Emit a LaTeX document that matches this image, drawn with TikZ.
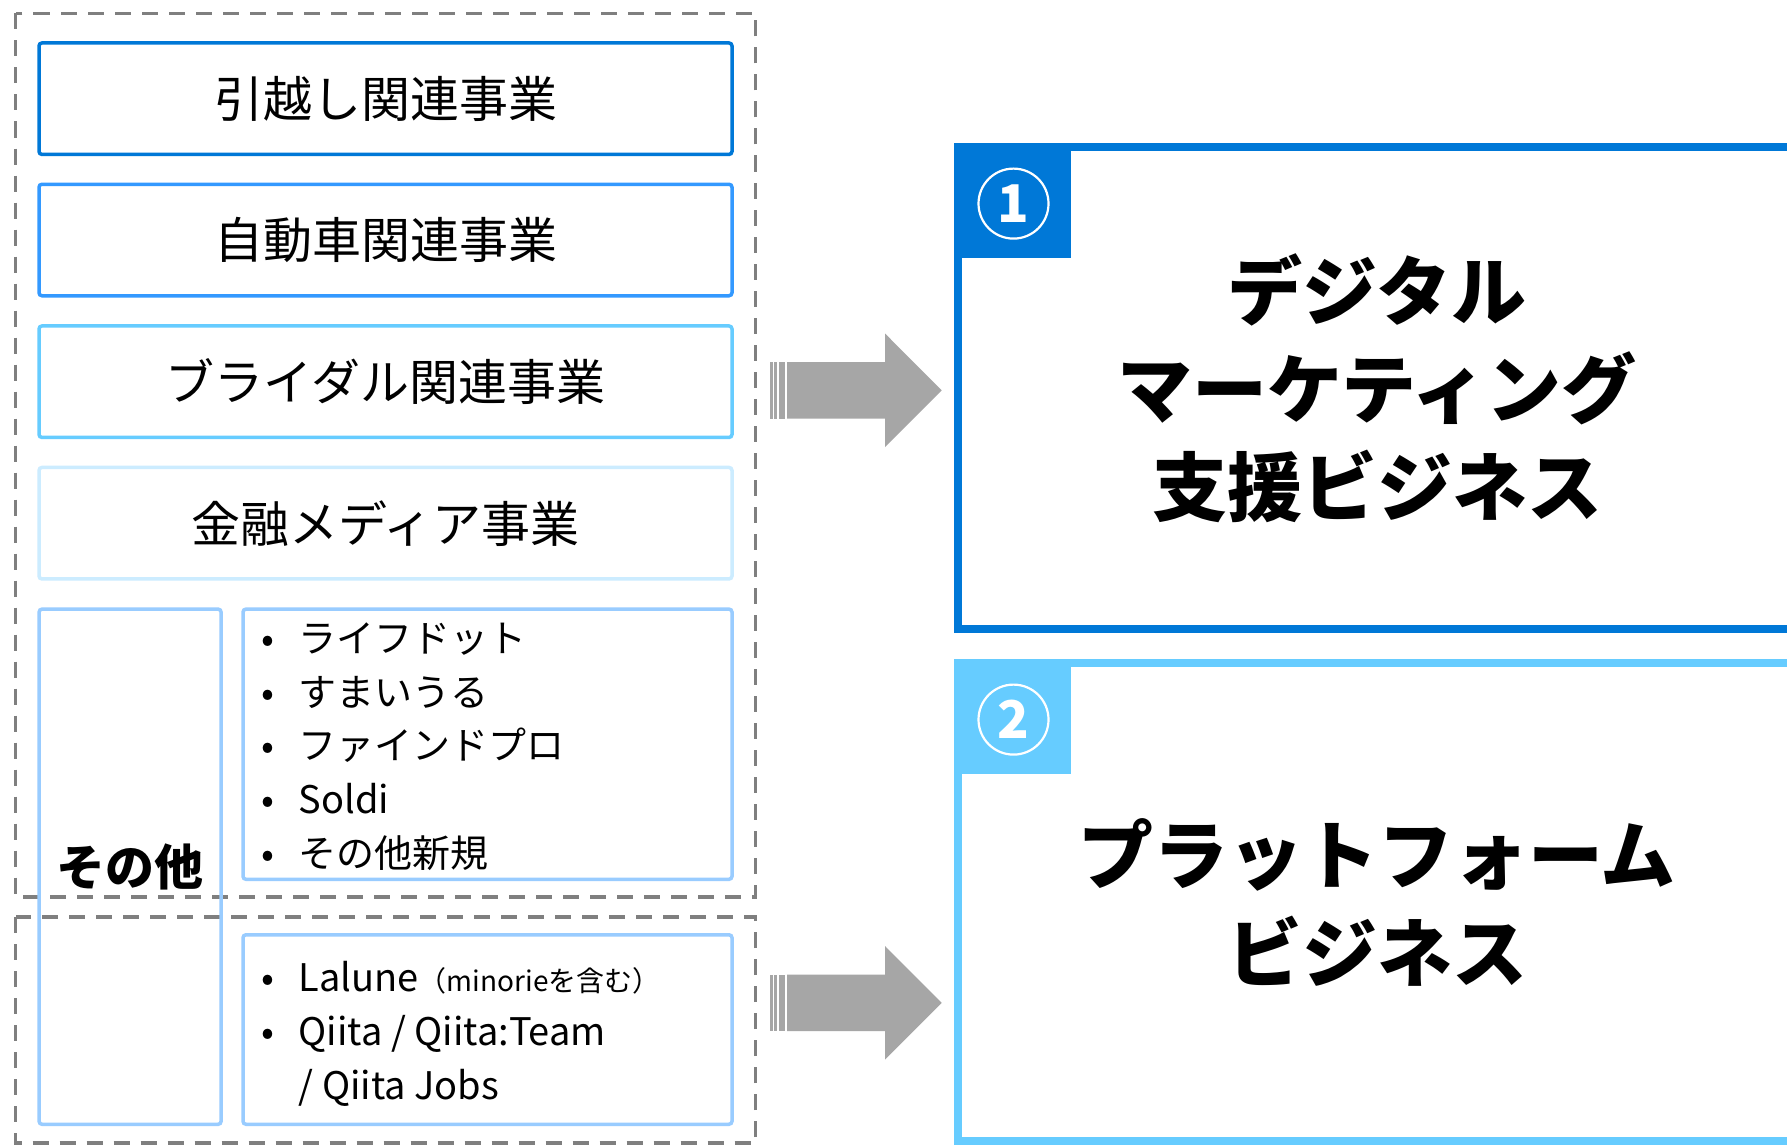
\documentclass[tikz,border=0pt]{standalone}
\usepackage{fontspec}
\setmainfont{Noto Sans CJK JP}
\definecolor{cA}{HTML}{0078D7}
\definecolor{cB}{HTML}{3399FF}
\definecolor{cC}{HTML}{66CCFF}
\definecolor{cD}{HTML}{CCECFF}
\definecolor{cE}{HTML}{99CCFF}
\definecolor{dgray}{HTML}{7F7F7F}
\definecolor{agray}{HTML}{A6A6A6}
\begin{document}
\begin{tikzpicture}[x=1pt,y=-1pt,
  grp/.style={draw=dgray,line width=3.4pt,dash pattern=on 16pt off 11pt},
  bizbox/.style={draw=#1,line width=3.5pt,rounded corners=3pt,inner sep=0pt,
    minimum width=693pt,minimum height=111.5pt,
    font=\fontsize{49}{58}\selectfont},
  subbox/.style={draw=cE,line width=3.5pt,rounded corners=3pt,inner sep=0pt},
  bigbox/.style={draw=#1,line width=8pt,inner sep=0pt,align=center,
    font=\fontsize{75}{98}\selectfont\bfseries},
  badge/.style={fill=#1},
  numc/.style={circle,draw=white,line width=2.2pt,minimum size=70pt,inner sep=0pt,
    text=white,font=\fontsize{52}{60}\selectfont\bfseries},
  bul/.style={anchor=base,inner sep=0pt,font=\fontsize{38}{46}\selectfont},
  item/.style={anchor=base west,inner sep=0pt,font=\fontsize{38}{46}\selectfont},
  blockarrow/.style={fill=agray,draw=none}
]
\useasboundingbox (0,0) rectangle (1787,1145);
\clip (0,0) rectangle (1787,1145);
\fill[white] (0,0) rectangle (1787,1145);

% dashed groups
\draw[grp] (15.5,13.5) rectangle (755.5,897);
\draw[grp] (15.5,917) rectangle (755.5,1143);

% business boxes
\node[bizbox=cA] (b1) at (385.5,98.7) {引越し関連事業};
\node[bizbox=cB] (b2) at (385.5,240) {自動車関連事業};
\node[bizbox=cC] (b3) at (385.5,381.7) {ブライダル関連事業};
\node[bizbox=cD] (b4) at (385.5,523.2) {金融メディア事業};

% other
\node[subbox,minimum width=182pt,minimum height=515.2pt,
  font=\fontsize{49}{58}\selectfont\bfseries] (other) at (130.1,866.7) {その他};
\node[subbox,minimum width=489pt,minimum height=270.2pt] (list1) at (487.5,744.2) {};
\node[subbox,minimum width=489pt,minimum height=189.5pt] (list2) at (487.5,1029.5) {};

% list 1
\node[bul] (p1) at (267.6,652.4) {•};
\node[item] (t1) at (298.5,652.4) {ライフドット};
\node[bul] (p2) at (267.6,706.1) {•};
\node[item] (t2) at (298.5,706.1) {すまいうる};
\node[bul] (p3) at (267.6,759.9) {•};
\node[item] (t3) at (298.5,759.9) {ファインドプロ};
\node[bul] (p4) at (267.6,813.6) {•};
\node[item] (t4) at (298.5,813.6) {Soldi};
\node[bul] (p5) at (267.6,867.4) {•};
\node[item] (t5) at (298.5,867.4) {その他新規};

% list 2
\node[bul] (q1) at (267.6,991.5) {•};
\node[item] (u1) at (298.5,991.5) {Lalune{\fontsize{28}{34}\selectfont （minorieを含む）}};
\node[bul] (q2) at (267.6,1045.25) {•};
\node[item] (u2) at (298.5,1045.25) {Qiita / Qiita:Team};
\node[item] (u3) at (298.5,1099) {/ Qiita Jobs};

% arrows
\foreach \dy in {0,612.5}{
  \fill[blockarrow] (770,362+\dy) rectangle (772.5,418.6+\dy);
  \fill[blockarrow] (774,362+\dy) rectangle (776.5,418.6+\dy);
  \fill[blockarrow] (778.5,362+\dy) rectangle (785,418.6+\dy);
  \fill[blockarrow] (787,362+\dy) -- (885,362+\dy) -- (885,333.5+\dy) -- (941.7,390.3+\dy)
     -- (885,447+\dy) -- (885,418.6+\dy) -- (787,418.6+\dy) -- cycle;
}

% big boxes
\node[bigbox=cA,minimum width=838pt,minimum height=481.6pt] (m1) at (1377,388.2)
  {デジタル\\マーケティング\\支援ビジネス};
\fill[badge=cA] (954,143.4) rectangle (1071,257.8);
\node[numc] (n1) at (1013.5,203.6) {1};

\node[bigbox=cC,minimum width=838pt,minimum height=478pt] (m2) at (1377,902)
  {プラットフォーム\\ビジネス};
\fill[badge=cC] (954,659) rectangle (1071,774);
\node[numc] (n2) at (1013.5,719.6) {2};
\end{tikzpicture}
\end{document}
